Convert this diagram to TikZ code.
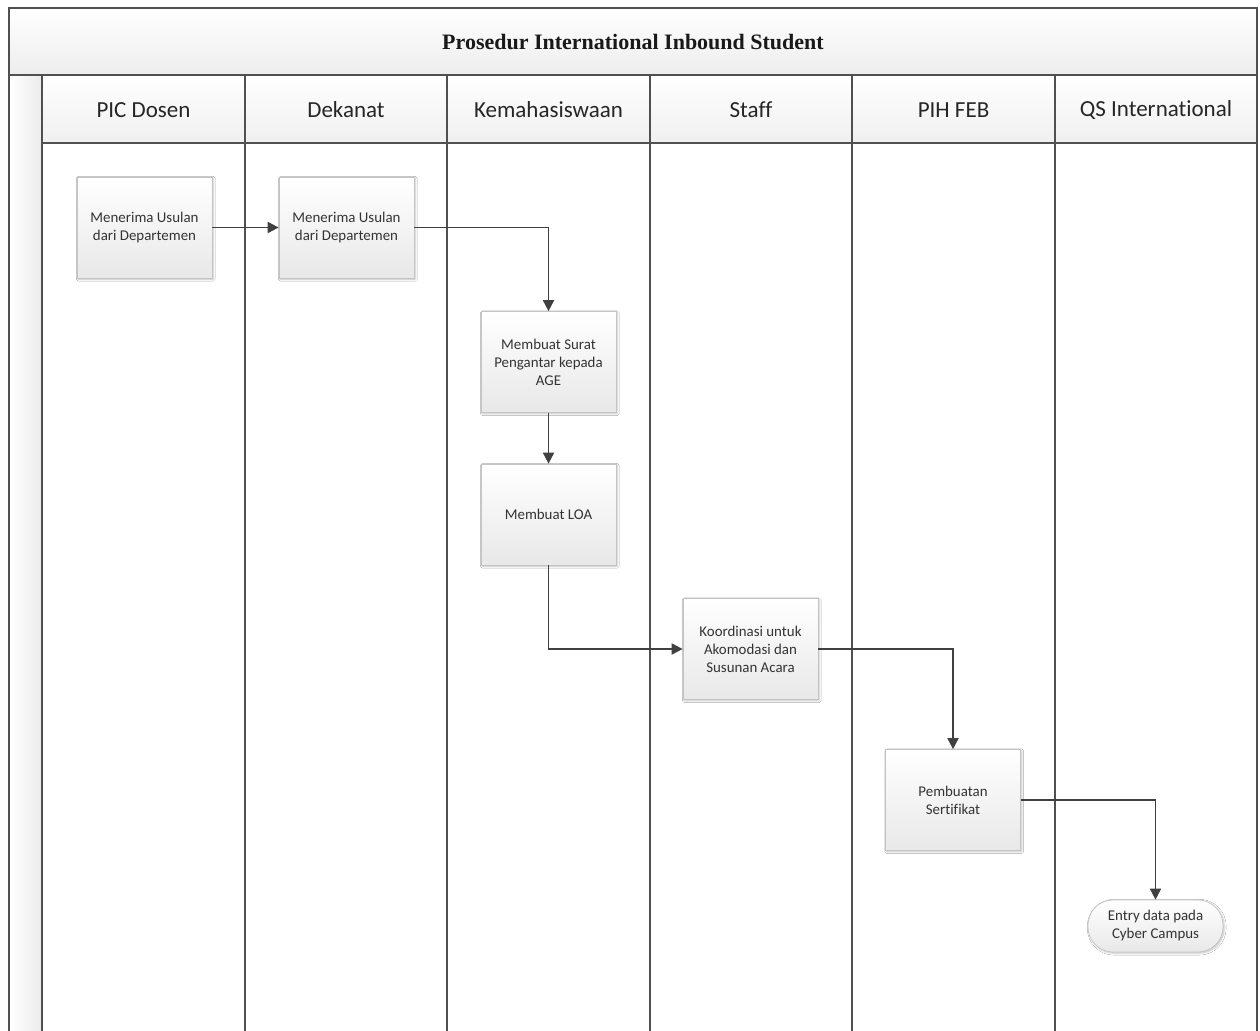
\documentclass[tikz,border=0pt]{standalone}
\usepackage{fontspec}
\setmainfont{Carlito}[Ligatures=NoCommon]
\newfontfamily\titlefont{Liberation Serif}
\usetikzlibrary{arrows.meta,shadows.blur}

\definecolor{linegray}{HTML}{505050}
\definecolor{boxborder}{HTML}{C4C4C4}
\definecolor{txtgray}{HTML}{333333}

\begin{document}
\begin{tikzpicture}[x=1pt,y=-1pt,
  lanebar/.style={draw=linegray, line width=1.4pt},
  hdrcell/.style={top color=white, bottom color=black!6},
  hdrtext/.style={font=\fontsize{23}{27}\selectfont, text=black!85},
  procbox/.style={draw=boxborder, line width=0.7pt, top color=white, bottom color=black!9,
    minimum width=135pt, minimum height=101pt, align=center, inner sep=3pt,
    font=\fontsize{14.9}{18}\selectfont, text=txtgray,
    blur shadow={shadow xshift=1.2pt, shadow yshift=-1.2pt, shadow blur steps=4, shadow opacity=25}},
  endbox/.style={procbox, minimum height=52pt, rounded corners=25pt},
  flow/.style={draw=black!75, line width=1.8pt, -{Triangle[length=11pt,width=11pt]}}
]
\useasboundingbox (0,0) rectangle (1260,1030);
\fill[white] (0,0) rectangle (1260,1030);

% title bar
\shade[top color=white, bottom color=black!7] (9,8) rectangle (1257,75);
\node[font=\titlefont\bfseries\fontsize{22}{26}\selectfont, text=black!90] (title) at (633,42) {Prosedur International Inbound Student};

% left strip
\shade[left color=white, right color=black!8] (9,75) rectangle (42,1030);

% header cells
\foreach \a/\b in {42/245,245/447,447/650,650/852,852/1055,1055/1257}{
  \shade[hdrcell] (\a,75) rectangle (\b,143);
}
\node[hdrtext] (h1) at (143.5,110) {PIC Dosen};
\node[hdrtext] (h2) at (346,110) {Dekanat};
\node[hdrtext] (h3) at (548.5,110) {Kemahasiswaan};
\node[hdrtext] (h4) at (751,110) {Staff};
\node[hdrtext] (h5) at (953.5,110) {PIH FEB};
\node[hdrtext] (h6) at (1156,110) {QS International};

% frame and lanes
\draw[lanebar] (9,1031) -- (9,8) -- (1257,8) -- (1257,1031);
\draw[lanebar] (9,75) -- (1257,75);
\draw[lanebar] (42,143) -- (1257,143);
\foreach \x in {42,245,447,650,852,1055}{
  \draw[lanebar] (\x,75) -- (\x,1031);
}

% process boxes
\node[procbox] (b1) at (144.5,227.5) {Menerima Usulan\\dari Departemen};
\node[procbox] (b2) at (346.5,227.5) {Menerima Usulan\\dari Departemen};
\node[procbox] (b3) at (548.5,362) {Membuat Surat\\Pengantar kepada\\AGE};
\node[procbox] (b4) at (548.5,514.5) {Membuat LOA};
\node[procbox] (b5) at (750.5,649) {Koordinasi untuk\\Akomodasi dan\\Susunan Acara};
\node[procbox] (b6) at (953,800) {Pembuatan\\Sertifikat};
\node[endbox] (b7) at (1155.5,926) {Entry data pada\\Cyber Campus};

% connectors
\draw[flow] (b1.east) -- (b2.west);
\draw[flow] (b2.east) -| (b3.north);
\draw[flow] (b3.south) -- (b4.north);
\draw[flow] (b4.south) |- (b5.west);
\draw[flow] (b5.east) -| (b6.north);
\draw[flow] (b6.east) -| (b7.north);
\end{tikzpicture}
\end{document}
